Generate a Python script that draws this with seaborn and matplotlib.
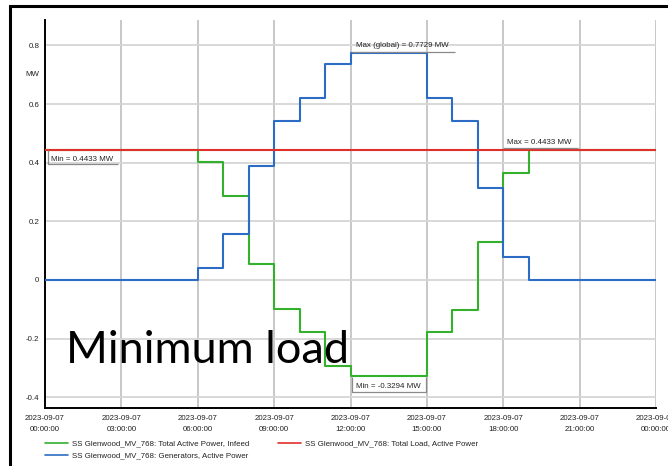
import numpy as np
import pandas as pd
import matplotlib
matplotlib.use("Agg")
import matplotlib.pyplot as plt
from matplotlib.ticker import MultipleLocator, FixedLocator
from matplotlib.patches import Rectangle
import seaborn as sns

# Hourly values, 2023-09-07 00:00 to 2023-09-08 00:00 (last value repeats for the final step)
hours = list(range(25))
generators_mw = [0, 0, 0, 0, 0, 0, 0.042, 0.156, 0.389, 0.541, 0.621, 0.737,
                 0.7729, 0.7729, 0.7729, 0.621, 0.544, 0.314, 0.078, 0, 0, 0, 0, 0, 0]
infeed_mw = [0.4433, 0.4433, 0.4433, 0.4433, 0.4433, 0.4433, 0.401, 0.287, 0.054,
             -0.098, -0.178, -0.294, -0.3294, -0.3294, -0.3294, -0.178, -0.101,
             0.129, 0.365, 0.4433, 0.4433, 0.4433, 0.4433, 0.4433, 0.4433]
load_mw = [0.4433] * 25

series_names = ["SS Glenwood_MV_768: Total Active Power, Infeed",
                "SS Glenwood_MV_768: Generators, Active Power",
                "SS Glenwood_MV_768: Total Load, Active Power"]
series_colors = ["#33b02c", "#2d6cc4", "#e0302c"]

tick_hours = [0, 3, 6, 9, 12, 15, 18, 21, 24]
tick_labels = ["2023-09-07\n00:00:00", "2023-09-07\n03:00:00", "2023-09-07\n06:00:00",
               "2023-09-07\n09:00:00", "2023-09-07\n12:00:00", "2023-09-07\n15:00:00",
               "2023-09-07\n18:00:00", "2023-09-07\n21:00:00", "2023-09-08\n00:00:00"]

df = pd.concat([
    pd.DataFrame({"hour": hours, "MW": infeed_mw, "series": series_names[0]}),
    pd.DataFrame({"hour": hours, "MW": generators_mw, "series": series_names[1]}),
    pd.DataFrame({"hour": hours, "MW": load_mw, "series": series_names[2]}),
])

sns.set_style("white")
plt.rcParams["font.family"] = ["Liberation Sans", "DejaVu Sans"]
FS = 5.7

fig = plt.figure(figsize=(6.68, 4.66), dpi=100)
ax = fig.add_axes([45 / 668, 1 - 408 / 466, (656 - 45) / 668, (408 - 20) / 466])

sns.lineplot(data=df, x="hour", y="MW", hue="series", hue_order=series_names,
             palette=series_colors, drawstyle="steps-post", linewidth=1.5,
             ax=ax, legend=True, zorder=3)

ax.set_xlim(0, 24)
ax.set_ylim(-0.437, 0.887)

# grid and ticks
ax.xaxis.set_major_locator(FixedLocator(tick_hours))
ax.set_xticks(tick_hours)
ax.set_xticklabels(tick_labels, fontsize=FS, linespacing=1.75)
ax.xaxis.set_minor_locator(MultipleLocator(1))
ax.yaxis.set_major_locator(MultipleLocator(0.2))
ax.yaxis.set_minor_locator(MultipleLocator(0.05))
ax.yaxis.set_major_formatter(matplotlib.ticker.FuncFormatter(
    lambda v, p: "0" if abs(v) < 1e-9 else f"{v:.1f}"))
ax.tick_params(axis="both", which="both", direction="in", colors="#555555",
               labelcolor="#222222", labelsize=FS, width=0.6)
ax.tick_params(axis="x", which="major", length=0, pad=5)
ax.tick_params(axis="x", which="minor", length=3)
ax.tick_params(axis="y", which="major", length=4, pad=4)
ax.tick_params(axis="y", which="minor", length=3)
ax.grid(True, which="major", axis="x", color="#c4c4c4", linewidth=1.3, zorder=0)
ax.grid(True, which="major", axis="y", color="#d6d6d6", linewidth=1.3, zorder=0)
ax.set_axisbelow(True)
for side in ("top", "right"):
    ax.spines[side].set_visible(False)
for side in ("left", "bottom"):
    ax.spines[side].set_color("black")
    ax.spines[side].set_linewidth(1.4)
ax.set_xlabel("")
ax.set_ylabel("")
ax.annotate("MW", xy=(0, 0.7), xycoords=("axes fraction", "data"),
            xytext=(-4, 0), textcoords="offset points", ha="right", va="center",
            fontsize=FS, color="#222222")

# min / max callouts
line_kw = dict(color="#8a8a8a", linewidth=0.9, zorder=4, solid_capstyle="butt")
txt_kw = dict(fontsize=FS, color="#222222", zorder=5, va="center", ha="left")

# Min of load at 00:00
ax.plot([0.12, 0.12, 2.87], [load_mw[0], 0.396, 0.396], **line_kw)
ax.text(0.22, 0.412, "Min = 0.4433 MW", **txt_kw)

# Max of load
ax.plot([18.0, 20.95], [0.450, 0.450], **line_kw)
ax.text(18.15, 0.468, "Max = 0.4433 MW", **txt_kw)

# Global max of generators
gmax = max(generators_mw)
ax.plot([12.05, 16.1], [gmax + 0.004, gmax + 0.004], **line_kw)
ax.text(12.2, gmax + 0.026, f"Max (global) = {gmax:.4f} MW", **txt_kw)

# Min of infeed
imin = min(infeed_mw)
ax.plot([12.05, 12.05, 14.95, 14.95], [imin - 0.002, -0.383, -0.383, imin - 0.002], **line_kw)
ax.text(12.2, -0.362, f"Min = {imin:.4f} MW", **txt_kw)

ax.text(0.82, -0.283, "Minimum load", fontsize=32.5, family=["Lato", "DejaVu Sans"],
        color="black", ha="left", va="baseline", zorder=6)

# legend below the plot
leg = ax.legend(loc="upper left", bbox_to_anchor=(45 / 668, 1 - 440 / 466),
                bbox_transform=fig.transFigure, ncol=2, frameon=False, fontsize=FS,
                handlelength=2.9, handletextpad=0.55, columnspacing=3.6,
                labelspacing=0.55, borderpad=0, borderaxespad=0)
for h in leg.get_lines():
    h.set_linewidth(1.2)
for t in leg.get_texts():
    t.set_color("#222222")

# outer frame
fig.patches.append(Rectangle((9.5 / 668, -0.1), 1.2, 1.1 - 6 / 466, transform=fig.transFigure,
                             fill=False, edgecolor="black", linewidth=2.2))

fig.savefig("out.png", dpi=100)
